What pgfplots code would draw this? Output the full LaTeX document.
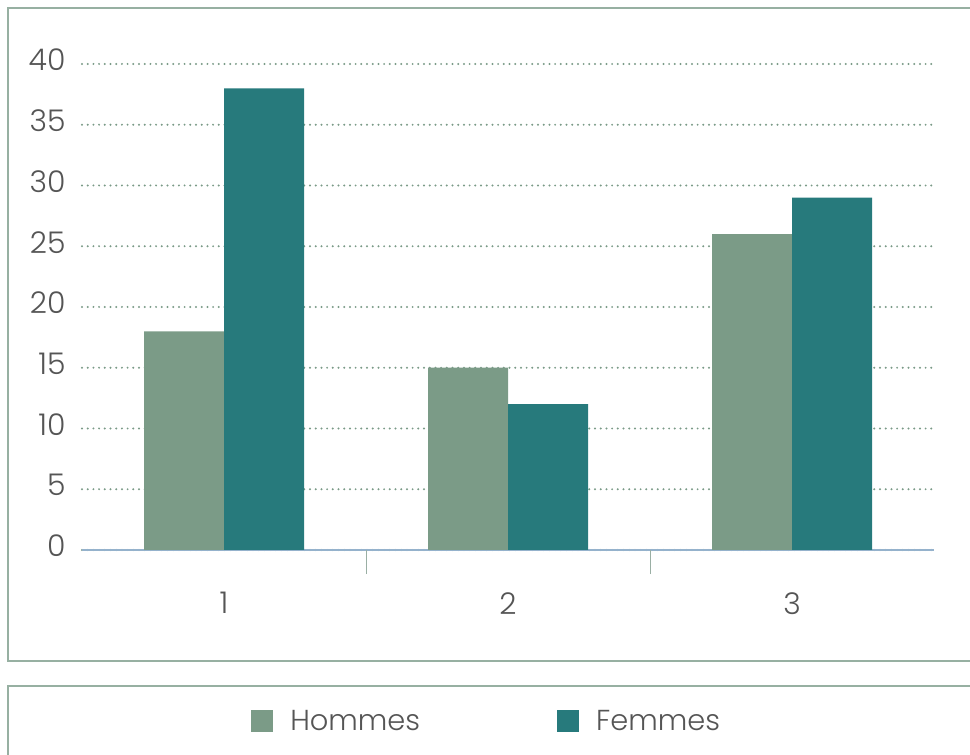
\documentclass[border=0pt]{standalone}
\usepackage{fontspec}
\setmainfont{Poppins}[UprightFont=* Light]
\usepackage{pgfplots}
\pgfplotsset{compat=1.18}
\definecolor{hom}{HTML}{7B9B87}
\definecolor{fem}{HTML}{277A7C}
\definecolor{framec}{HTML}{97B0A2}
\definecolor{gridc}{HTML}{7A9A87}
\definecolor{axc}{HTML}{95B2CC}
\definecolor{tickc}{HTML}{9AAFA4}
\definecolor{txt}{HTML}{555555}
\begin{document}
\begin{tikzpicture}
\useasboundingbox (0bp,0bp) rectangle (970bp,755bp);
\draw[framec, line width=2bp] (8bp,94bp) rectangle (1000bp,747bp);
\draw[framec, line width=2bp] (8bp,-20bp) rectangle (1000bp,69bp);
\begin{axis}[
  at={(82bp,205bp)}, anchor=south west,
  width=852bp, height=486bp, scale only axis,
  xmin=0.5, xmax=3.5, ymin=0, ymax=40,
  ybar=0pt, bar width=80bp,
  xtick={1,2,3}, xticklabels={1,2,3},
  major tick length=0bp,
  tick style={draw=tickc, line width=1bp},
  extra x ticks={1.5,2.5}, extra x tick labels={},
  extra x tick style={major tick length=24bp, tick align=outside, grid=none},
  ytick={0,5,...,40},
  ymajorgrids,
  grid style={gridc, line width=2.2bp, dash pattern=on 0bp off 5.7bp, line cap=round},
  axis x line=bottom, axis y line=left,
  x axis line style={-, draw=axc, line width=1.5bp},
  y axis line style={draw=none},
  ytick style={draw=none},
  /pgf/number format/assume math mode=true,
  tick label style={font=\fontsize{30}{34}\selectfont, text=txt},
  xticklabel style={yshift=-39bp},
  yticklabel style={xshift=-13bp, yshift=4bp},
  legend style={at={(0.475,-0.352)}, anchor=center, draw=none, fill=none,
    legend columns=2, font=\fontsize{29}{33}\selectfont, text=txt,
    /tikz/every even column/.append style={column sep=135bp}},
  legend image code/.code={\fill[#1] (0bp,-11bp) rectangle (22bp,11bp); \path (37bp,0bp);},
]
\addplot[fill=hom, draw=none] coordinates {(1,18) (2,15) (3,26)};
\addplot[fill=fem, draw=none] coordinates {(1,38) (2,12) (3,29)};
\legend{Hommes,Femmes}
\end{axis}
\end{tikzpicture}
\end{document}
